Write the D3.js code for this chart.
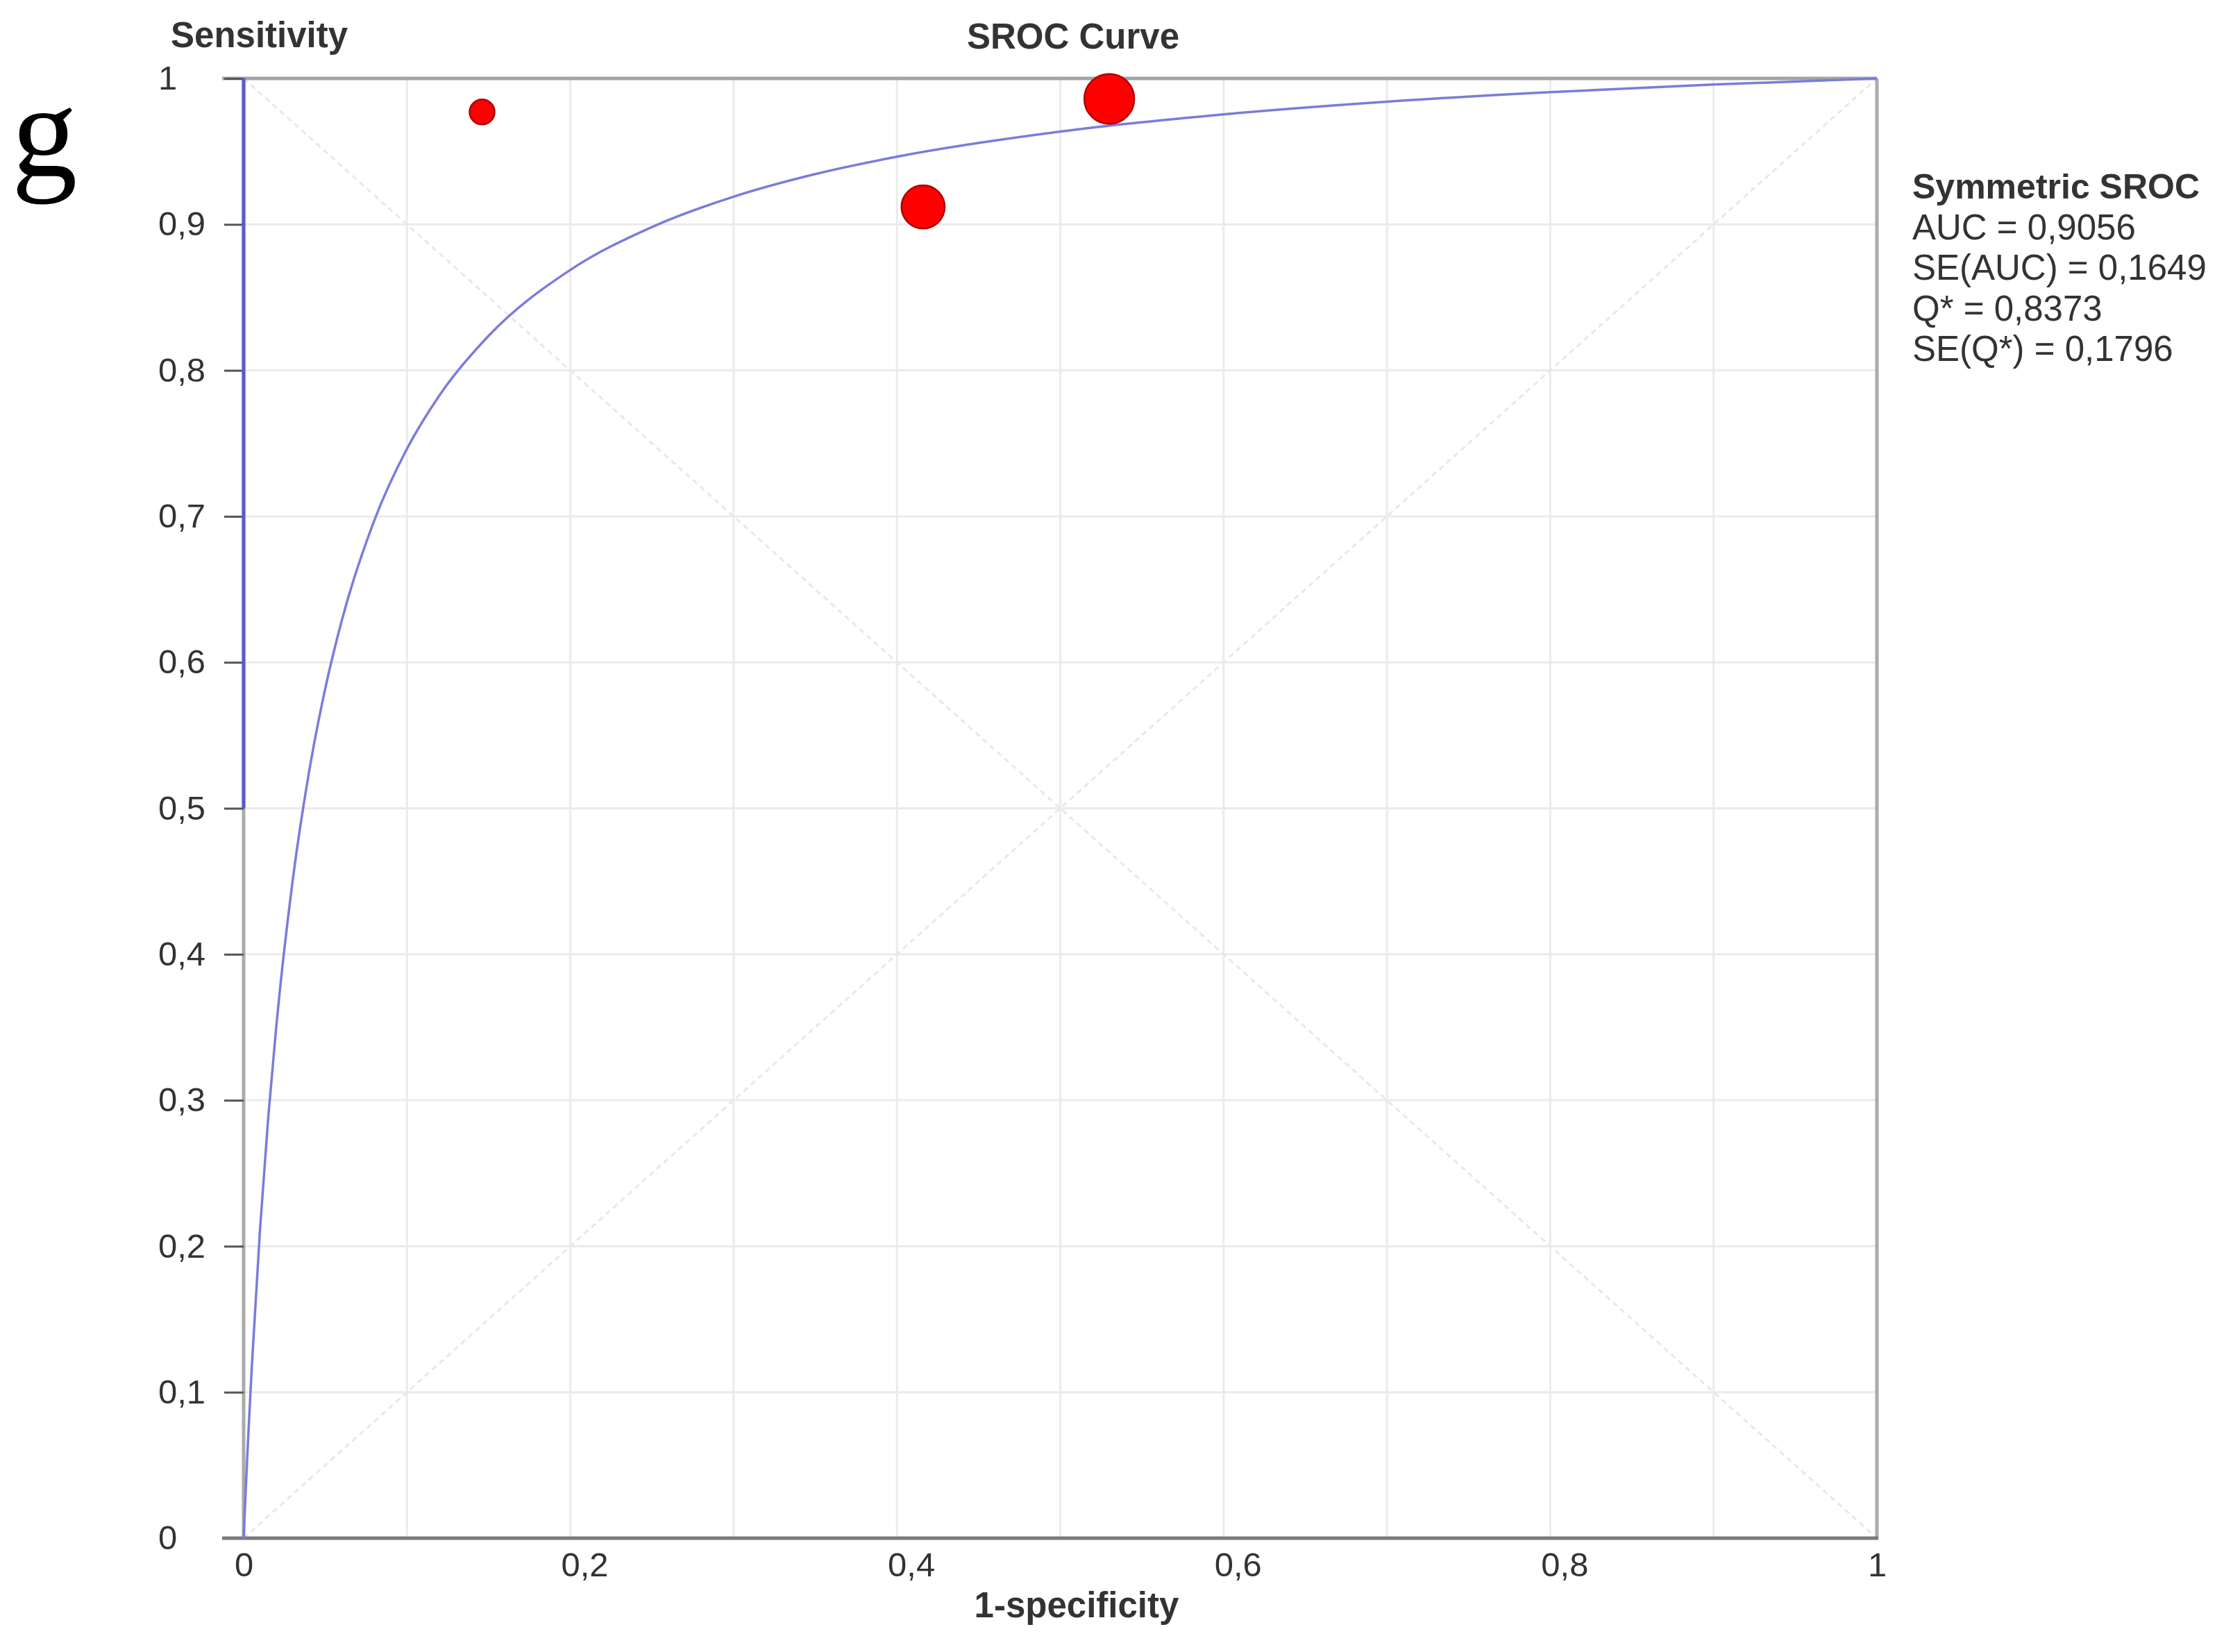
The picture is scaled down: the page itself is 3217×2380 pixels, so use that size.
<!DOCTYPE html>
<html>
<head>
<meta charset="utf-8">
<script src="https://cdn.jsdelivr.net/npm/d3@7"></script>
<style>
  html, body { margin: 0; padding: 0; background: #ffffff; }
  svg { display: block; }
</style>
</head>
<body>
<script>
// ---------- data ----------
const yTicks = [0, 0.1, 0.2, 0.3, 0.4, 0.5, 0.6, 0.7, 0.8, 0.9, 1];
const yTickLabels = ["0", "0,1", "0,2", "0,3", "0,4", "0,5", "0,6", "0,7", "0,8", "0,9", "1"];
const xTicks = [0, 0.2, 0.4, 0.6, 0.8, 1];
const xTickLabels = ["0", "0,2", "0,4", "0,6", "0,8", "1"];
const gridValues = [0.1, 0.2, 0.3, 0.4, 0.5, 0.6, 0.7, 0.8, 0.9];

// studies: 1-specificity, sensitivity, weight
const studyFpr = [0.146, 0.416, 0.530];
const studySens = [0.977, 0.912, 0.986];
const studyWeight = [10, 30, 40];

// symmetric SROC curve
const srocFpr  = [0, 0.0005, 0.001, 0.002, 0.003, 0.005, 0.01, 0.015, 0.02, 0.03, 0.04, 0.05, 0.06, 0.08, 0.1, 0.12, 0.15, 0.2, 0.25, 0.3, 0.35, 0.4, 0.5, 0.6, 0.7, 0.8, 0.9, 1];
const srocSens = [0, 0.0131, 0.0258, 0.0504, 0.0738, 0.1174, 0.2110, 0.2874, 0.3508, 0.4503, 0.5246, 0.5822, 0.6283, 0.6972, 0.7463, 0.7831, 0.8237, 0.8688, 0.8982, 0.9190, 0.9345, 0.9464, 0.9636, 0.9754, 0.9841, 0.9906, 0.9958, 1];

// blue segment on the sensitivity axis
const segFpr = [0, 0];
const segSens = [0.5, 1];

const chartTitle = "SROC Curve";
const yTitle = "Sensitivity";
const xTitle = "1-specificity";
const panelLetter = "g";
const legendTitle = "Symmetric SROC";
const legendLines = ["AUC = 0,9056", "SE(AUC) = 0,1649", "Q* = 0,8373", "SE(Q*) = 0,1796"];

// ---------- layout ----------
const W = 3217, H = 2380;
const L = 351, R = 2704, T = 113, B = 2216;
const FONT = "'Liberation Sans', Arial, sans-serif";
const TEXT = "#333333";

const svg = d3.select("body").append("svg")
  .attr("width", W).attr("height", H)
  .attr("viewBox", `0 0 ${W} ${H}`);

svg.append("rect").attr("width", W).attr("height", H).attr("fill", "#ffffff");

const x = d3.scaleLinear().domain([0, 1]).range([L, R]);
const y = d3.scaleLinear().domain([0, 1]).range([B, T]);
const rScale = d3.scaleSqrt().domain([0, 40]).range([0, 36]);

// grid
const grid = svg.append("g");
grid.selectAll("line.v").data(gridValues).join("line")
  .attr("x1", d => x(d)).attr("x2", d => x(d))
  .attr("y1", y(0)).attr("y2", y(1))
  .attr("stroke", "#ebebeb").attr("stroke-width", 3);
grid.selectAll("line.h").data(gridValues).join("line")
  .attr("x1", x(0)).attr("x2", x(1))
  .attr("y1", d => y(d)).attr("y2", d => y(d))
  .attr("stroke", "#ebebeb").attr("stroke-width", 3);

// diagonals
const diagLine = d3.line().x(d => x(d[0])).y(d => y(d[1]));
[[[0, 0], [1, 1]], [[0, 1], [1, 0]]].forEach(seg => {
  svg.append("path").attr("d", diagLine(seg))
    .attr("fill", "none").attr("stroke", "#e8e8e8")
    .attr("stroke-width", 3).attr("stroke-dasharray", "8,6");
});

// frame
svg.append("line").attr("x1", 320).attr("x2", x(1)).attr("y1", y(1)).attr("y2", y(1))
  .attr("stroke", "#a3a3a3").attr("stroke-width", 5);
svg.append("line").attr("x1", x(1)).attr("x2", x(1)).attr("y1", y(1)).attr("y2", y(0))
  .attr("stroke", "#ababab").attr("stroke-width", 5);
svg.append("line").attr("x1", x(0)).attr("x2", x(0)).attr("y1", y(1)).attr("y2", y(0))
  .attr("stroke", "#ababab").attr("stroke-width", 5);

// y axis
const yAxis = d3.axisLeft(y).tickValues(yTicks)
  .tickFormat((d, i) => yTickLabels[i]).tickSize(28).tickPadding(10);
const gy = svg.append("g").attr("transform", `translate(${L},0)`).call(yAxis);
gy.select(".domain").remove();
gy.selectAll(".tick line").attr("stroke", "#555").attr("stroke-width", 3);
gy.selectAll(".tick text")
  .attr("x", 228 - L).attr("text-anchor", "start")
  .attr("font-family", FONT).attr("font-size", 49).attr("fill", TEXT);

// x axis
const xAxis = d3.axisBottom(x).tickValues(xTicks)
  .tickFormat((d, i) => xTickLabels[i]).tickSize(0);
const gx = svg.append("g").attr("transform", `translate(0,${B})`).call(xAxis);
gx.select(".domain").remove();
gx.selectAll(".tick text")
  .attr("x", -13.6).attr("y", 55).attr("dy", 0).attr("text-anchor", "start")
  .attr("font-family", FONT).attr("font-size", 49).attr("fill", TEXT);
svg.append("line").attr("x1", 320).attr("x2", x(1) + 2).attr("y1", B).attr("y2", B)
  .attr("stroke", "#7a7a7a").attr("stroke-width", 5);

// SROC curve
const curveLine = d3.line().x(d => x(d[0])).y(d => y(d[1])).curve(d3.curveMonotoneX);
svg.append("path")
  .attr("d", curveLine(srocFpr.map((v, i) => [v, srocSens[i]])))
  .attr("fill", "none").attr("stroke", "#7b7bdc").attr("stroke-width", 3.5);

// blue axis segment
svg.append("path")
  .attr("d", d3.line().x(d => x(d[0])).y(d => y(d[1]))(segFpr.map((v, i) => [v, segSens[i]])))
  .attr("fill", "none").attr("stroke", "#5a5ad0").attr("stroke-width", 5);

// study points
svg.append("g").selectAll("circle")
  .data(studyFpr.map((v, i) => ({ fpr: v, sens: studySens[i], w: studyWeight[i] })))
  .join("circle")
  .attr("cx", d => x(d.fpr)).attr("cy", d => y(d.sens)).attr("r", d => rScale(d.w))
  .attr("fill", "#ff0000").attr("stroke", "#b00000").attr("stroke-width", 2.5);

// titles
svg.append("text").attr("x", 1546).attr("y", 70).attr("text-anchor", "middle")
  .attr("font-family", FONT).attr("font-weight", "bold").attr("font-size", 51)
  .attr("fill", TEXT).text(chartTitle);
svg.append("text").attr("x", 246).attr("y", 68).attr("text-anchor", "start")
  .attr("font-family", FONT).attr("font-weight", "bold").attr("font-size", 51)
  .attr("fill", TEXT).text(yTitle);
svg.append("text").attr("x", 1551).attr("y", 2330).attr("text-anchor", "middle")
  .attr("font-family", FONT).attr("font-weight", "bold").attr("font-size", 51)
  .attr("fill", TEXT).text(xTitle);

// panel letter
svg.append("text").attr("x", 64).attr("y", 253).attr("text-anchor", "middle")
  .attr("font-family", "'Liberation Serif', 'Times New Roman', serif").attr("font-size", 190)
  .attr("fill", "#000").text(panelLetter);

// legend
const lg = svg.append("g");
lg.append("text").attr("x", 2755).attr("y", 286)
  .attr("font-family", FONT).attr("font-weight", "bold").attr("font-size", 50)
  .attr("fill", TEXT).text(legendTitle);
lg.selectAll("text.l").data(legendLines).join("text")
  .attr("class", "l")
  .attr("x", 2755).attr("y", (d, i) => 344.5 + i * 58.5)
  .attr("font-family", FONT).attr("font-size", 51)
  .attr("fill", TEXT).text(d => d);
</script>
</body>
</html>
